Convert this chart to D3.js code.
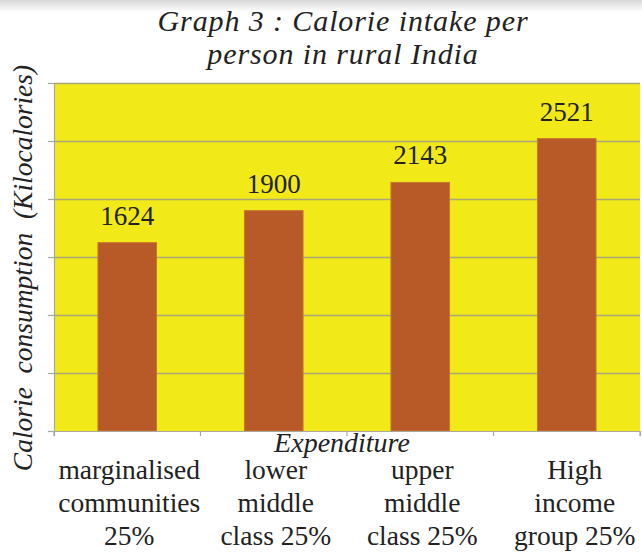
<!DOCTYPE html>
<html>
<head>
<meta charset="utf-8">
<script src="https://cdn.jsdelivr.net/npm/d3@7"></script>
<style>
  html, body { margin: 0; padding: 0; background: #ffffff; }
  svg { display: block; }
</style>
</head>
<body>
<svg id="chart" width="642" height="554"></svg>
<script>
const categories = [
  ["marginalised", "communities", "25%"],
  ["lower", "middle", "class 25%"],
  ["upper", "middle", "class 25%"],
  ["High", "income", "group 25%"]
];
const values = [1624, 1900, 2143, 2521];
const yTicks = [0, 500, 1000, 1500, 2000, 2500, 3000];
const titleLines = ["Graph 3 : Calorie intake per", "person in rural India"];
const yTitle = "Calorie  consumption  (Kilocalories)";
const xTitle = "Expenditure";

(function () {
const FONT = "Liberation Serif";
const svg = d3.select("#chart");
const W = 642, H = 554;
const mLeft = 54, mRight = 640, mTop = 83, mBottom = 431;

const defs = svg.append("defs");
const grad = defs.append("linearGradient").attr("id", "topShade").attr("x1", 0).attr("y1", 0).attr("x2", 0).attr("y2", 1);
grad.append("stop").attr("offset", "0%").attr("stop-color", "#d8d8d8");
grad.append("stop").attr("offset", "100%").attr("stop-color", "#ffffff");
svg.append("rect").attr("x", 0).attr("y", 0).attr("width", W).attr("height", 12).attr("fill", "url(#topShade)");

const idx = d3.range(values.length);
const x = d3.scaleBand().domain(idx).range([mLeft, mRight]).padding(0);
const y = d3.scaleLinear().domain([0, 3000]).range([mBottom, mTop]);

svg.append("rect")
  .attr("x", mLeft).attr("y", mTop)
  .attr("width", mRight - mLeft).attr("height", mBottom - mTop)
  .attr("fill", "#f1ea18");

const yAxis = d3.axisLeft(y).tickValues(yTicks).tickSize(6).tickFormat("");
const gy = svg.append("g").attr("transform", `translate(${mLeft},0)`).call(yAxis);
gy.select(".domain").attr("stroke", "#a8a8a0").attr("stroke-width", 1.2);
gy.selectAll(".tick line").attr("stroke", "#a8a8a0").attr("stroke-width", 1.2);

const grid = d3.axisLeft(y).tickValues(yTicks.filter(v => v > 0)).tickSize(-(mRight - mLeft)).tickFormat("");
const gg = svg.append("g").attr("transform", `translate(${mLeft},0)`).call(grid);
gg.select(".domain").remove();
gg.selectAll(".tick line").attr("stroke", "#a9a77a").attr("stroke-width", 1.5);

const barFrac = 0.4;
svg.append("g").selectAll("rect").data(idx).join("rect")
  .attr("x", i => x(i) + x.bandwidth() * (1 - barFrac) / 2)
  .attr("width", x.bandwidth() * barFrac)
  .attr("y", i => y(values[i]))
  .attr("height", i => y(0) - y(values[i]))
  .attr("fill", "#b85a27")
  .attr("stroke", "#c8782e")
  .attr("stroke-width", 1);

svg.append("g").selectAll("text").data(idx).join("text")
  .attr("x", i => x(i) + x.bandwidth() / 2)
  .attr("y", i => y(values[i]) - 18)
  .attr("text-anchor", "middle")
  .style("font-family", FONT)
  .attr("fill", "#222")
  .attr("font-size", 27)
  .text(i => values[i]);

const xAxis = d3.axisBottom(x).tickSize(5).tickFormat("");
const gx = svg.append("g").attr("transform", `translate(0,${mBottom})`).call(xAxis);
gx.select(".domain").attr("stroke", "#a8a8a0").attr("stroke-width", 1.2);
gx.selectAll(".tick").remove();
const bounds = d3.range(values.length + 1).map(i => mLeft + i * x.step());
gx.selectAll("line.b").data(bounds).join("line").attr("class", "b")
  .attr("x1", d => d).attr("x2", d => d).attr("y1", 0).attr("y2", 5)
  .attr("stroke", "#a8a8a0").attr("stroke-width", 1.2);

const lineY = [479, 512, 545];
const cat = svg.append("g").selectAll("text").data(idx).join("text")
  .attr("text-anchor", "middle")
  .style("font-family", FONT)
  .attr("fill", "#222")
  .attr("font-size", 27.5);
cat.each(function(i) {
  const t = d3.select(this);
  categories[i].forEach((ln, k) => {
    t.append("tspan").attr("x", x(i) + x.bandwidth() / 2 + (i === 3 ? 8 : 2)).attr("y", lineY[k]).text(ln);
  });
});

svg.append("text")
  .attr("x", 342).attr("y", 452)
  .attr("text-anchor", "middle")
  .style("font-family", FONT)
  .attr("fill", "#222")
  .attr("font-style", "italic")
  .attr("font-size", 28)
  .text(xTitle);

svg.append("text")
  .attr("transform", `translate(32,268) rotate(-90)`)
  .attr("text-anchor", "middle")
  .style("font-family", FONT)
  .attr("fill", "#222")
  .attr("font-style", "italic")
  .attr("font-size", 27.5)
  .style("white-space", "pre")
  .text(yTitle);

svg.append("g").selectAll("text").data(titleLines).join("text")
  .attr("x", 343)
  .attr("y", (d, k) => 30.5 + k * 33.5)
  .attr("text-anchor", "middle")
  .style("font-family", FONT)
  .style("letter-spacing", "0.9px")
  .attr("fill", "#222")
  .attr("font-style", "italic")
  .attr("font-size", 30)
  .text(d => d);
})();
</script>
</body>
</html>
